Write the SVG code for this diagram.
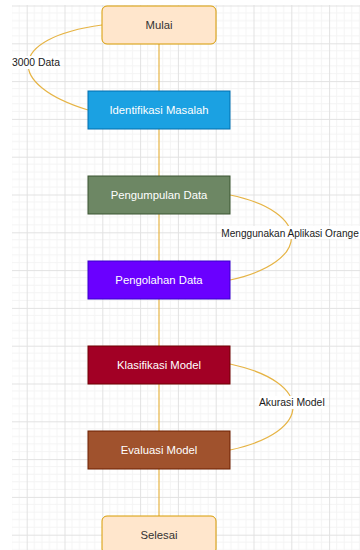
<svg xmlns="http://www.w3.org/2000/svg" width="360" height="550" viewBox="0 0 360 550">
  <defs>
    <pattern id="grid" x="26.7" y="5.5" width="37.8" height="37.8" patternUnits="userSpaceOnUse">
      <path d="M7.56,0V37.8M15.12,0V37.8M22.68,0V37.8M30.24,0V37.8M0,7.56H37.8M0,15.12H37.8M0,22.68H37.8M0,30.24H37.8" stroke="#f4f4f4" stroke-width="1" fill="none"/>
      <path d="M0.5,0V37.8M0,0.5H37.8" stroke="#e2e2e2" stroke-width="1" fill="none"/>
    </pattern>
    <style>
      .edge { fill: none; stroke: #e6b445; stroke-width: 1.2; }
      .node text { font-family: "Liberation Sans", Arial, Helvetica, sans-serif; font-size: 11.3px; text-anchor: middle; }
      .light { fill: #ffffff; }
      .dark { fill: #333333; }
      .lbl { font-family: "Liberation Sans", Arial, Helvetica, sans-serif; font-size: 10.4px; fill: #1a1a1a; }
      .lblbg { fill: #ffffff; }
    </style>
  </defs>
  <rect x="0" y="0" width="360" height="550" fill="#ffffff"/>
  <rect x="12" y="5" width="348" height="545" fill="url(#grid)"/>

  <g id="connectors">
    <line class="edge" x1="159" y1="44" x2="159" y2="91"/>
    <line class="edge" x1="159" y1="129" x2="159" y2="176"/>
    <line class="edge" x1="159" y1="214" x2="159" y2="261"/>
    <line class="edge" x1="159" y1="299" x2="159" y2="346"/>
    <line class="edge" x1="159" y1="384" x2="159" y2="431"/>
    <line class="edge" x1="159" y1="469" x2="159" y2="516"/>
    <path class="edge" d="M102,25 C6,38 6,85 88,110"/>
    <path class="edge" d="M230,195 C312,212 312,262 230,280"/>
    <path class="edge" d="M230,364 C314,382 314,432 230,450"/>
    <g id="label-3000">
      <rect class="lblbg" x="12" y="56" width="48" height="13"/>
      <text class="lbl" x="36" y="66.3" text-anchor="middle">3000 Data</text>
    </g>
    <g id="label-orange">
      <rect class="lblbg" x="221" y="226" width="139" height="13"/>
      <text class="lbl" x="221.3" y="236.5" style="font-size:10.1px">Menggunakan Aplikasi Orange</text>
    </g>
    <g id="label-akurasi">
      <rect class="lblbg" x="259" y="396" width="66" height="13"/>
      <text class="lbl" x="291.8" y="406.3" text-anchor="middle">Akurasi Model</text>
    </g>
  </g>

  <g id="mulai" class="node">
    <rect x="102" y="6" width="114" height="38" rx="5" fill="#ffe6cc" stroke="#d79b00" stroke-width="1"/>
    <text class="dark" x="159" y="29">Mulai</text>
  </g>
  <g id="identifikasi" class="node">
    <rect x="88" y="91" width="142" height="38" fill="#1ba1e2" stroke="#006eaf" stroke-width="1"/>
    <text class="light" x="159" y="114">Identifikasi Masalah</text>
  </g>
  <g id="pengumpulan" class="node">
    <rect x="88" y="176" width="142" height="38" fill="#6d8764" stroke="#3a5431" stroke-width="1"/>
    <text class="light" x="159" y="199">Pengumpulan Data</text>
  </g>
  <g id="pengolahan" class="node">
    <rect x="88" y="261" width="142" height="38" fill="#6a00ff" stroke="#3700cc" stroke-width="1"/>
    <text class="light" x="159" y="284">Pengolahan Data</text>
  </g>
  <g id="klasifikasi" class="node">
    <rect x="88" y="346" width="142" height="38" fill="#a20025" stroke="#6f0000" stroke-width="1"/>
    <text class="light" x="159" y="369">Klasifikasi Model</text>
  </g>
  <g id="evaluasi" class="node">
    <rect x="88" y="431" width="142" height="38" fill="#a0522d" stroke="#6d1f00" stroke-width="1"/>
    <text class="light" x="159" y="454">Evaluasi Model</text>
  </g>
  <g id="selesai" class="node">
    <rect x="102" y="516" width="114" height="38" rx="5" fill="#ffe6cc" stroke="#d79b00" stroke-width="1"/>
    <text class="dark" x="159" y="539">Selesai</text>
  </g>
</svg>
